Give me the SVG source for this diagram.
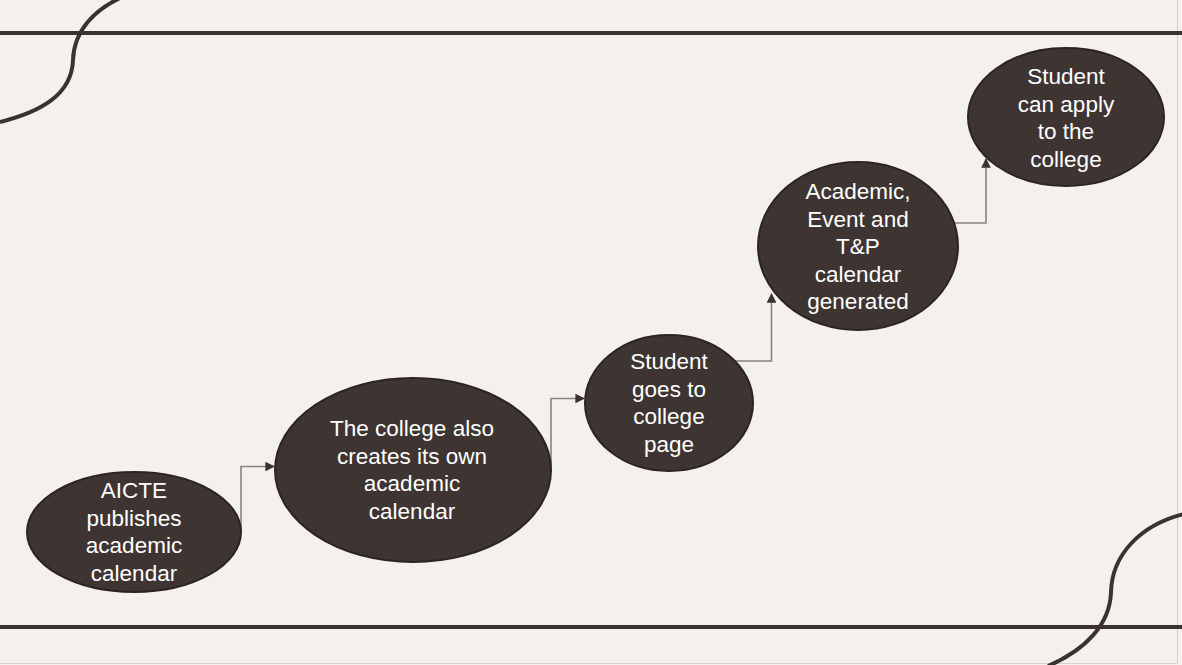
<svg xmlns="http://www.w3.org/2000/svg" width="1182" height="665" viewBox="0 0 1182 665">
<defs>
<style>
.bg{fill:#f4f1ec}
.deco{fill:none;stroke:#3b3230;stroke-width:4}
.node ellipse{fill:#3e3533;stroke:#2c2422;stroke-width:2}
.node text{fill:#ffffff;font-family:"Liberation Sans",Arial,sans-serif;font-size:22.5px;text-anchor:middle}
.conn path{fill:none;stroke:#8a8380;stroke-width:1.6;marker-end:url(#arr)}
</style>
<marker id="arr" viewBox="0 0 10 10" refX="9" refY="5" markerWidth="6" markerHeight="6" orient="auto" markerUnits="strokeWidth">
<path d="M0,0 L10,5 L0,10 Z" fill="#3b3230"/>
</marker>
</defs>
<rect class="bg" x="0" y="0" width="1182" height="665"/>
<line x1="1177.5" y1="0" x2="1177.5" y2="663" stroke="#d4d0cc" stroke-width="1"/>
<line x1="0" y1="663.5" x2="1178" y2="663.5" stroke="#d4d0cc" stroke-width="1"/>
<g id="decor">
<line class="deco" x1="0" y1="33" x2="1182" y2="33"/>
<line class="deco" x1="0" y1="627" x2="1182" y2="627"/>
<path class="deco" d="M0,122 C40,112 72,95 73,60 C74,30 95,10 120,-2"/>
<path class="deco" d="M1184,514 C1140,525 1112,555 1111,592 C1110,625 1085,650 1048,666"/>
</g>
<g class="conn" id="connectors">
<path d="M241,532 V466.5 H274"/>
<path d="M551,470 V398.5 H584"/>
<path d="M735,361 H771.5 V294"/>
<path d="M955,223 H986 V159"/>
</g>
<g class="node" id="n1">
<ellipse cx="134" cy="532" rx="107" ry="60"/>
<text x="134" y="498">AICTE</text>
<text x="134" y="526">publishes</text>
<text x="134" y="553">academic</text>
<text x="134" y="581">calendar</text>
</g>
<g class="node" id="n2">
<ellipse cx="413" cy="470" rx="138" ry="92"/>
<text x="412" y="436">The college also</text>
<text x="412" y="464">creates its own</text>
<text x="412" y="491">academic</text>
<text x="412" y="519">calendar</text>
</g>
<g class="node" id="n3">
<ellipse cx="669" cy="403" rx="84" ry="68"/>
<text x="669" y="369">Student</text>
<text x="669" y="397">goes to</text>
<text x="669" y="424">college</text>
<text x="669" y="452">page</text>
</g>
<g class="node" id="n4">
<ellipse cx="858" cy="246" rx="100" ry="84"/>
<text x="858" y="199">Academic,</text>
<text x="858" y="227">Event and</text>
<text x="858" y="254">T&amp;P</text>
<text x="858" y="282">calendar</text>
<text x="858" y="309">generated</text>
</g>
<g class="node" id="n5">
<ellipse cx="1066" cy="117" rx="98" ry="69"/>
<text x="1066" y="84">Student</text>
<text x="1066" y="112">can apply</text>
<text x="1066" y="139">to the</text>
<text x="1066" y="167">college</text>
</g>
</svg>
